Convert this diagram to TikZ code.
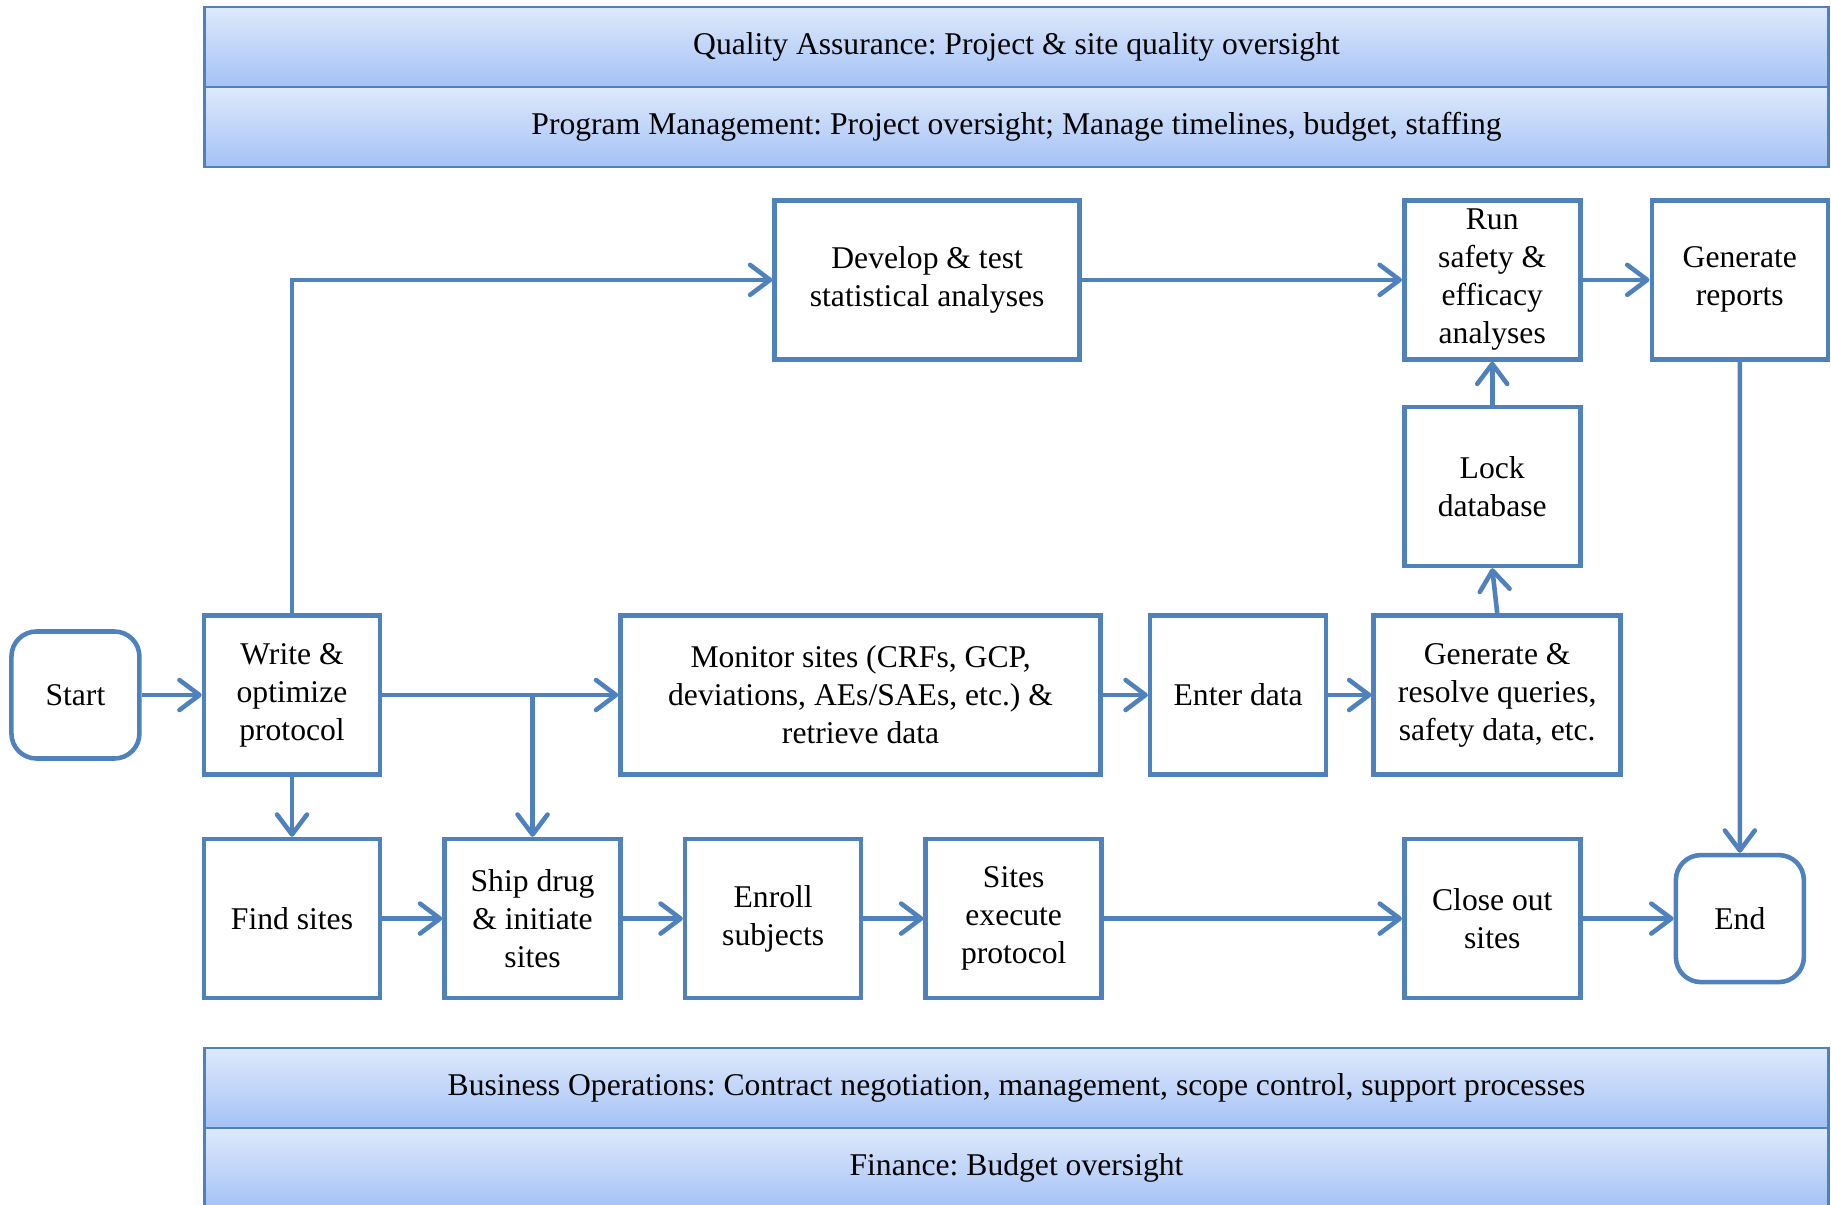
\documentclass[tikz,border=0pt]{standalone}
\usepackage{fontspec}
\setmainfont{Liberation Serif}
\frenchspacing
\usetikzlibrary{positioning,arrows.meta}
\definecolor{lineblue}{RGB}{79,129,189}
\definecolor{bandtop}{RGB}{222,233,252}
\definecolor{bandbot}{RGB}{164,194,246}

\begin{document}
\begin{tikzpicture}[every node/.style={font=\fontsize{9pt}{10.8pt}\selectfont,align=center,inner sep=1pt},
    proc/.style={draw=lineblue,line width=1.3pt,minimum width=1.76cm,minimum height=1.59cm},
    term/.style={draw=lineblue,line width=1.3pt,rounded corners=0.25cm,minimum width=1.28cm,minimum height=1.27cm},
    band/.style={draw=lineblue,line width=0.8pt,top color=bandtop,bottom color=bandbot,minimum width=16.24cm,minimum height=0.80cm,outer sep=0pt},
    flow/.style={draw=lineblue,line width=1.3pt,-{Straight Barb[length=2mm,width=3mm,round]}}]
    \useasboundingbox (0,0) rectangle (18.31,-12.04);
    % oversight bands
    \node[band] (qa) at (10.165,-0.47) {Quality Assurance: Project \& site quality oversight};
    \node[band,below=0pt of qa] (pm) {Program Management: Project oversight; Manage timelines, budget, staffing};
    \node[band] (bizops) at (10.165,-10.88) {Business Operations: Contract negotiation, management, scope control, support processes};
    \node[band,below=0pt of bizops] (fin) {Finance: Budget oversight};
    % middle row
    \node[proc] (write) at (2.92,-6.95) {Write \&\\optimize\\protocol};
    \node[term,left=0.60cm of write] (start) {Start};
    \node[proc,right=2.36cm of write,minimum width=4.80cm] (monitor) {Monitor sites (CRFs, GCP,\\deviations, AEs/SAEs, etc.) \&\\retrieve data};
    \node[proc,right=0.45cm of monitor] (enter) {Enter data};
    \node[proc,right=0.43cm of enter,minimum width=2.47cm] (genres) {Generate \&\\resolve queries,\\safety data, etc.};
    % upper part
    \node[proc,above=0.45cm of genres,xshift=-0.05cm] (lock) {Lock\\database};
    \node[proc,above=0.43cm of lock] (run) {Run\\safety \&\\efficacy\\analyses};
    \node[proc,right=0.67cm of run] (genrep) {Generate\\reports};
    \node[proc,left=3.20cm of run,minimum width=3.05cm] (develop) {Develop \& test\\statistical analyses};
    % lower row
    \node[proc,below=0.60cm of write] (find) {Find sites};
    \node[proc,right=0.60cm of find] (ship) {Ship drug\\\& initiate\\sites};
    \node[proc,right=0.60cm of ship] (enroll) {Enroll\\subjects};
    \node[proc,right=0.60cm of enroll] (execute) {Sites\\execute\\protocol};
    \node[proc,right=2.98cm of execute] (close) {Close out\\sites};
    \node[term,right=0.91cm of close] (end) {End};
    % connectors
    \draw[flow] (start) -- (write);
    \draw[flow] (write.north) |- (develop.west);
    \draw[flow] (develop) -- (run);
    \draw[flow] (run) -- (genrep);
    \draw[flow] (genrep.south) -- (end.north);
    \draw[flow] (write) -- (monitor);
    \draw[flow] (write.east -| ship) -- (ship.north);
    \draw[flow] (monitor) -- (enter);
    \draw[flow] (enter) -- (genres);
    \draw[flow] (genres.north) -- (lock.south);
    \draw[flow] (lock) -- (run);
    \draw[flow] (write) -- (find);
    \draw[flow] (find) -- (ship);
    \draw[flow] (ship) -- (enroll);
    \draw[flow] (enroll) -- (execute);
    \draw[flow] (execute) -- (close);
    \draw[flow] (close) -- (end);
\end{tikzpicture}
\end{document}
